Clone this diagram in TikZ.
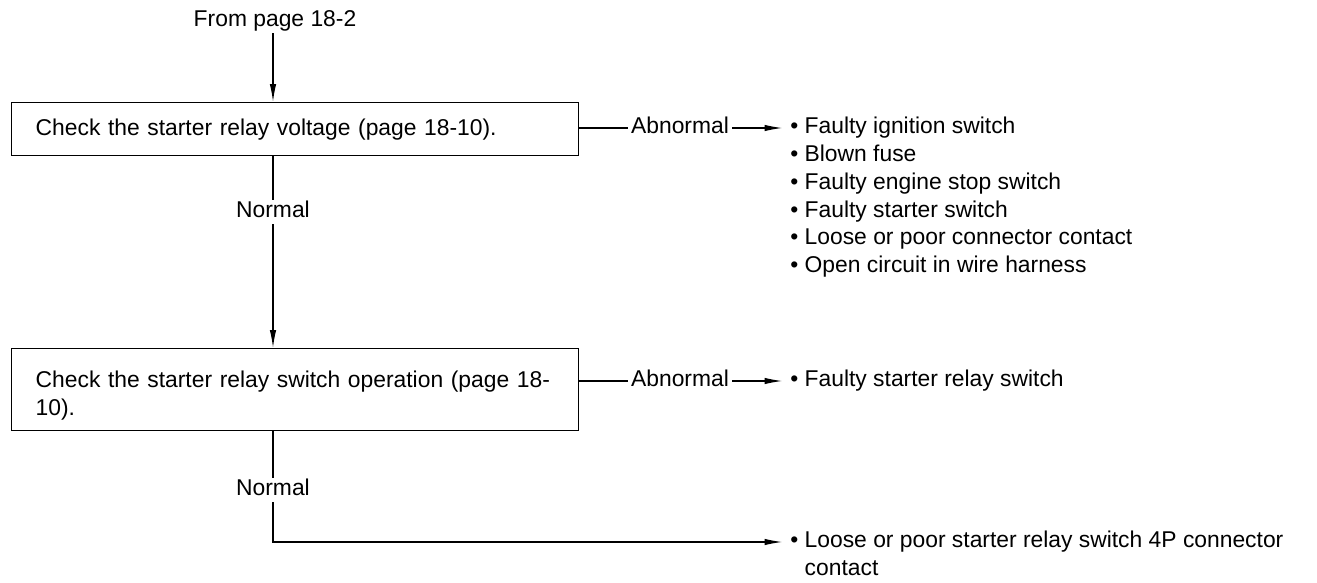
\documentclass[tikz,border=0pt]{standalone}
\usepackage{fontspec}
\setmainfont{Liberation Sans}
\usepackage{tikz}
\usetikzlibrary{positioning, arrows.meta, calc}

\tikzset{
	flowline/.style={line width=0.75pt},
	flowarrow/.style={line width=0.75pt, -{Latex[length=0.36cm, width=0.13cm]}},
	checkbox/.style={draw, line width=0.8pt, anchor=north west, minimum width=11.34cm, text width=10.38cm, inner xsep=0.48cm, align=left},
	branch/.style={inner xsep=0.06cm, inner ysep=0.08cm, text height=1.45ex, text depth=0.25ex},
	item/.style={anchor=west, inner xsep=0.15cm, inner ysep=0pt, text height=1.45ex, text depth=0.25ex},
}

\begin{document}
\begin{tikzpicture}[font=\fontsize{13}{15.8}\selectfont]
	\useasboundingbox (0,0) rectangle (26.34,-11.66);

	% Start
	\node[branch] (start) at (5.5,-0.42) {From page 18-2};

	% Check boxes
	\node[checkbox, minimum height=1.06cm] (check1) at (0.22,-2.04) {Check the starter relay voltage (page 18-10).};
	\node[checkbox, minimum height=1.64cm] (check2) at (0.22,-6.96) {\rule{0pt}{16pt}Check the starter relay switch operation (page 18-\\10).};

	% Abnormal branches
	\node[branch] (ab1) at (13.6,-2.56) {Abnormal};
	\node[branch] (ab2) at (13.6,-7.62) {Abnormal};

	% Normal branches
	\node[branch] (norm1) at (5.46,-4.24) {Normal};
	\node[branch] (norm2) at (5.46,-9.8) {Normal};

	% Causes
	\node[item] (f1) at (15.65,-2.56) {\textbullet\ Faulty ignition switch};
	\node[item] (f2) at (15.65,-3.11) {\textbullet\ Blown fuse};
	\node[item] (f3) at (15.65,-3.67) {\textbullet\ Faulty engine stop switch};
	\node[item] (f4) at (15.65,-4.23) {\textbullet\ Faulty starter switch};
	\node[item] (f5) at (15.65,-4.78) {\textbullet\ Loose or poor connector contact};
	\node[item] (f6) at (15.65,-5.34) {\textbullet\ Open circuit in wire harness};

	\node[item] (r1) at (15.65,-7.62) {\textbullet\ Faulty starter relay switch};

	\node[item] (c1) at (15.65,-10.84) {\textbullet\ Loose or poor starter relay switch 4P connector};
	\node[item] (c2) at (15.65,-11.40) {\phantom{\textbullet\ }contact};

	% Connections
	\draw[flowarrow] (start.south -| norm1) -- (norm1 |- check1.north);
	\draw[flowline] (ab1 -| check1.east) -- (ab1);
	\draw[flowarrow] (ab1) -- (f1);

	\draw[flowline] (norm1 |- check1.south) -- (norm1);
	\draw[flowarrow] (norm1) -- (norm1 |- check2.north);

	\draw[flowline] (ab2 -| check2.east) -- (ab2);
	\draw[flowarrow] (ab2) -- (r1);

	\draw[flowline] (norm2 |- check2.south) -- (norm2);
	\draw[flowarrow] (norm2) -- (norm2 |- c1) -- (c1);
\end{tikzpicture}
\end{document}
